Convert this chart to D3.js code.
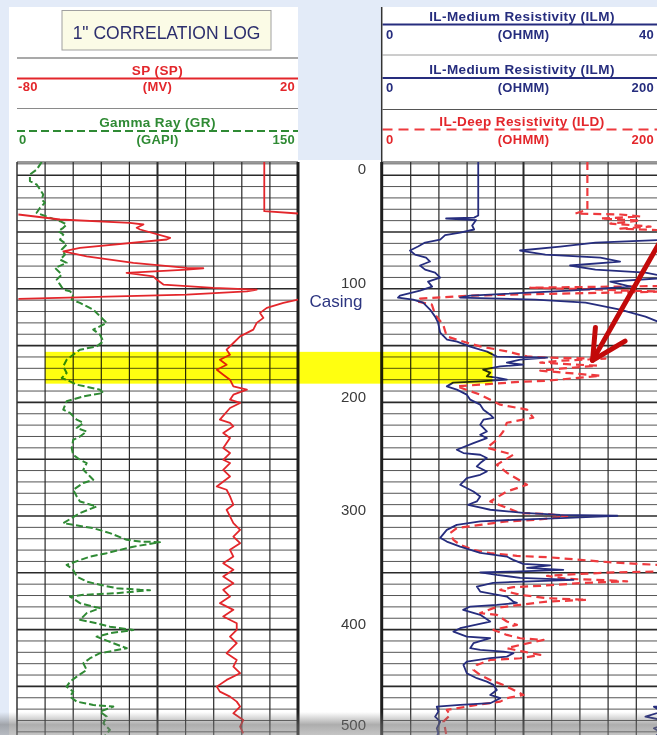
<!DOCTYPE html>
<html>
<head>
<meta charset="utf-8">
<script src="https://cdn.jsdelivr.net/npm/d3@7"></script>
<style>
  html, body { margin: 0; padding: 0; background: #e3ebf8; }
  svg { display: block; }
  text { font-family: "Liberation Sans", Arial, sans-serif; }
</style>
</head>
<body>
<svg id="chart"></svg>
<script>
// ── Data (depth in ft, values in curve units) ──
const depthTicks = [0, 100, 200, 300, 400, 500];
const spScale = [-80, 20];   // MV
const grScale = [0, 150];    // GAPI
const ilmScaleA = [0, 40];   // OHMM
const ilmScaleB = [0, 200];  // OHMM
const ildScale = [0, 200];   // OHMM

// SP wraps off the scale twice: null marks the break
const spCurve = [
  [-11.6, 8], [31.7, 8], [33.7, 20], [34.2, null], [34.6, -79.5], [39, -64.7], [42, -39.8],
  [43.4, -35], [46.3, -37.4], [47.8, -36.2], [55.2, -25.5], [56.6, -26.7], [64, -57.6],
  [67, -63.5], [71.4, -55.2], [77.2, -38.6], [81.6, -19.6], [81.9, -13.7], [83.1, -19.6],
  [86, -41], [89, -31.5], [91.9, -30.3], [96.3, -27.9], [99.2, -10.1], [100.7, 5.3],
  [102.2, 1.8], [105.1, -19.6], [108.9, -79.5], [109.2, null], [109.5, 20], [112.4, 14.8],
  [116.8, 8.9], [121.2, 6.5], [125.6, 7.7], [130, 5.3], [135.9, 4.1], [141.9, -0.6],
  [147.7, -3], [153.6, -5.4], [158, -4.2], [162.4, -7.8], [166.8, -5.4], [171.2, -8.9],
  [175.6, -6.6], [180, -4.2], [185.9, -3], [188.8, 1.8], [193.2, -3], [197.6, -4.2],
  [200.5, -0.6], [204.9, -4.2], [215.2, -7.8], [218.1, -4.2], [221.1, -3], [227, -6.6],
  [231.4, -4.2], [235.8, -5.4], [240.2, -6.6], [244.6, -4.2], [250.5, -6.6], [253.4, -4.2],
  [259.3, -6.6], [265.2, -4.2], [274, -8.9], [276.9, -5.4], [282.8, -4.2], [290.1, -3],
  [294.5, -5.4], [300.4, -4.2], [306.3, -3], [312.2, -0.6], [318.1, -3], [323.9, -0.6],
  [329.8, -4.2], [335.7, -3], [341.5, -6.6], [347.4, -3], [353.3, -6.6], [359.1, -3],
  [365, -6.6], [370.9, -4.2], [376.7, -7.8], [382.6, -3], [388.5, -6.6], [394.4, -1.8],
  [400.3, -1.8], [406.2, -4.2], [412, -1.8], [420.8, -5.4], [426.7, -1.8], [432.6, -3],
  [438.4, -0.6], [444.3, -5.4], [450.2, -8.9], [454.6, -7.8], [459, -4.2], [463.4, -1.8],
  [467.8, -0.6], [473.7, -3], [479.6, 0.5], [485.5, -0.6], [491.3, 0.5]
];

const grCurve = [
  [-11.6, 13.2], [-5, 10.5], [-0.6, 6.9], [5.3, 6.9], [8.2, 10.5], [12.6, 12.3], [17, 14],
  [21.4, 13.2], [24.3, 14.9], [28.7, 12.3], [33.1, 10.5], [37.5, 17.6], [40.5, 23],
  [43.4, 26.5], [46.3, 24.7], [49.3, 22], [52.2, 24.7], [56.7, 23], [61, 26.5], [65.4, 23.9],
  [69.9, 25.6], [74.3, 23], [77.2, 26.5], [81.6, 20.3], [87.5, 23.9], [91.9, 21.2], [96.3, 23],
  [100.7, 24.7], [102.2, 28.3], [105.1, 30], [109.5, 29.2], [112.4, 33.6], [118.3, 40.7],
  [124.2, 44.3], [130, 47.9], [135.9, 40.7], [140.4, 44.3], [146.3, 46.1], [150.7, 42.5],
  [153.6, 33.6], [158, 30], [162.4, 26.5], [168.3, 24.7], [174.1, 26.5], [178.5, 23.9],
  [181.5, 28.3], [184.4, 31.9], [188.8, 44.3], [191.7, 46.1], [194.7, 35.4], [199, 26.5],
  [206.4, 24.7], [209.3, 28.3], [215.2, 31.9], [218.1, 35.4], [222.6, 31.9], [225.6, 37.2],
  [230, 33.6], [232.9, 30], [240.2, 29.2], [246.1, 30], [250.5, 33.6], [253.4, 37.2],
  [259.3, 35.4], [265.2, 39], [268.1, 40.7], [271, 35.4], [276.9, 30], [282.8, 31.9],
  [287.2, 33.6], [291.6, 42.5], [297.4, 33.6], [306.3, 24.7], [307.7, 30], [310.7, 40.7],
  [315.1, 49.6], [321, 58.6], [322.5, 65.7], [323, 76.3], [327, 62.1], [329.8, 55],
  [332.7, 47.9], [335.7, 39], [343, 26.5], [347.4, 30], [353.3, 31.9], [357.7, 37.2],
  [360.6, 44.3], [363.5, 53.2], [365, 65.7], [365.3, 71], [367.9, 53.2], [369.4, 35.4],
  [370.9, 28.3], [376.7, 33.6], [379.7, 40.7], [381.1, 44.3], [385.5, 37.2], [391.4, 33.6],
  [394.4, 42.5], [397.4, 49.6], [400.3, 62.1], [403.2, 49.6], [406.2, 42.5], [412, 51.4],
  [416.4, 58.6], [420.8, 44.3], [425.2, 39], [429.6, 35.4], [435.5, 37.2], [441.4, 31.9],
  [445.8, 28.3], [450.2, 26.5], [454.6, 30], [459, 28.3], [463.4, 31.9], [466.3, 40.7],
  [467.8, 51.4], [472.2, 44.3], [476.6, 47.9], [482.5, 46.1], [488.3, 49.6], [492.8, 47]
];

// ILM is drawn on both medium scales (0-40 and 0-200)
const ilmCurve = [
  [-11.6, 67.9], [35.5, 67.9], [37.3, 65], [38.1, 45.1], [39.5, 66.4], [44.3, 63.6],
  [47.8, 65], [50.5, 55.1], [52.7, 44.4], [56.7, 40.9], [59.3, 30.2], [62.8, 25.2],
  [66.3, 19.5], [69.9, 23.1], [72.5, 30.9], [76, 33.7], [79.5, 26.6], [83.1, 30.2],
  [85.7, 37.3], [90.1, 40.9], [93.7, 32.3], [98.1, 35.2], [101.6, 26.6], [106, 12.4],
  [107.8, 11], [109.5, 21.7], [112.2, 28.8], [118.3, 33.7], [124.5, 37.3], [129.8, 39.4],
  [138.6, 40.9], [144.8, 45.8], [146.5, 52.9], [150.9, 62.2], [153.6, 69.3], [155.3, 74.2],
  [159.7, 81.1], [160.6, 116.7], [162.4, 97.7], [165, 88.2], [166.8, 99.8], [168.3, 83.5],
  [171.2, 71.4], [173.8, 76.4], [177.1, 74], [178.2, 81.1], [180, 88.2], [181.5, 69.3],
  [182.6, 50.1], [185.9, 45.6], [188.8, 52.7], [193.2, 59.8], [197.6, 62.2], [202, 69.3],
  [206.4, 71.6], [210.8, 76.4], [213.7, 78.7], [215.2, 71.6], [219.6, 69.3], [225.6, 74],
  [228.5, 69.3], [231.4, 74], [235.8, 64.5], [241.7, 52.7], [244.6, 57.4], [246.1, 69.3],
  [249, 74], [253.4, 69.3], [256.4, 66.9], [260.8, 74], [263.7, 69.3], [266.6, 59.8],
  [272.5, 55.1], [278.4, 64.5], [282.8, 69.3], [287.2, 66.9], [290.1, 60.7], [294.5, 76.4],
  [297.2, 99.8], [299, 126.1], [299.8, 166.6], [301.6, 131], [303.4, 92.7], [304.8, 69.3],
  [307.8, 52.7], [312.2, 45.6], [319.2, 40.9], [322.5, 45.6], [326.9, 55.1], [332.4, 69.3],
  [335.7, 88.2], [338.6, 92.7], [342.1, 99.8], [343.4, 119], [345.6, 102.5], [347.4, 128.2],
  [348.9, 92.7], [349.6, 69.3], [351.8, 81.1], [354.4, 97.7], [356.2, 135.4], [357.7, 99.8],
  [358.8, 78.5], [362.1, 66.9], [366.5, 69.3], [370.9, 88.2], [375.3, 92.7], [376.5, 95.3],
  [378.2, 81.1], [379.7, 62.2], [382.6, 57.2], [387, 69.3], [392.9, 76.4], [398.8, 55.1],
  [401.8, 50.3], [406.2, 59.8], [407.6, 76.4], [412, 64.5], [416.4, 62.2], [417.9, 69.3],
  [419.4, 85.8], [420.8, 92.9], [423.8, 88.2], [425.2, 76.4], [428.2, 59.8], [431.1, 57.4],
  [438.4, 59.8], [442.8, 66.9], [445.8, 74], [448.7, 78.7], [453.1, 81.1], [457.5, 76.4],
  [460.4, 83.5], [464.8, 76.4], [466.3, 55.1], [467.8, 38.5], [472.2, 39.6], [476.7, 37.3],
  [481.1, 40.9], [486.9, 38.5], [491.3, 39.6], [492.8, 38.8]
];

const ildCurve = [
  [-11.6, 145.3], [30.2, 145.3], [33.7, 136.8], [34.6, 168.7], [36.4, 183], [38.1, 154.6],
  [39.9, 183], [42.6, 161.6], [45.2, 190.1], [47, 168.7], [48.7, 204.3], [56.7, 230],
  [92, 230], [97.3, 211.4], [99, 104.8], [100.7, 154.6], [102.5, 197.2], [104.2, 126.1],
  [106, 62.2], [108.6, 26.6], [111, 24.3], [113.9, 35], [122.7, 37.3], [131.5, 43],
  [141.9, 45.6], [144.8, 52.7], [150.7, 69.3], [155.1, 88.2], [159.5, 102.5], [160.6, 116.7],
  [161.5, 158.1], [163.3, 126.1], [165, 111.9], [167.7, 152.4], [170.3, 126.1], [172.1, 111.9],
  [176.5, 154.6], [178.2, 140.3], [180.9, 116.9], [181.8, 97.7], [184.4, 69.3], [185.9, 52.7],
  [193.2, 69.3], [202, 83.5], [206.4, 102.5], [213.5, 106.9], [217.9, 88.2], [225.6, 85.6],
  [232.9, 81.1], [239.9, 74], [246.1, 92.7], [254.9, 81.1], [261.9, 88.2], [272.5, 102.5],
  [278.4, 88.2], [287.2, 76.4], [297.4, 97.7], [298.1, 116.7], [300.4, 130.9], [303.3, 109.6],
  [304.8, 88.2], [307.8, 69.3], [310.7, 52.7], [315.1, 48], [321, 50.3], [325.4, 55.1],
  [329.8, 64.5], [332.7, 76.4], [335.1, 95.3], [336.2, 116.7], [338.6, 140.3], [341, 164],
  [343, 195], [345.6, 225], [348.9, 195], [349.6, 164], [351, 140.3], [352.7, 116.7],
  [355.3, 130.9], [356.8, 164], [357.5, 173.5], [359.1, 140.3], [361.5, 111.9], [362.6, 92.9],
  [365, 83.5], [369.4, 97.7], [372.3, 116.7], [373.8, 145.1], [375.3, 116.7], [378.2, 97.7],
  [381.1, 78.7], [385.5, 69.3], [387, 81.1], [392.9, 88.2], [395.8, 95.3], [400.3, 78.7],
  [404.7, 88.2], [407.6, 97.7], [409.1, 114.2], [413.5, 97.7], [416.4, 88.2], [419.4, 100],
  [422.3, 111.9], [425.2, 97.7], [426.7, 76.4], [431.1, 66.9], [435.5, 64.5], [439.9, 69.3],
  [444.3, 76.4], [448.7, 85.8], [457.5, 100], [460.4, 88.2], [463.4, 83.5], [466.3, 66.9],
  [470.7, 45.6], [475.1, 48], [481, 43.2], [486.9, 44.4], [491.9, 45.1]
];

const highlightZone = [155.5, 183.5];          // depth ft
const casingDepth = 116;                       // label baseline
// arrow in ILD units / depth: tail, tip, two barbs
const arrowTail = [203, 45];
const arrowTip = [149, 163];
const arrowBarbs = [[151, 134], [172, 146]];

// ── Layout ──
const width = 657, height = 735;
const trackTop = 162;
const leftTrack = [17, 298];
const rightTrack = [382.5, 664.5];
const depthAxisX = 368;

const RED = "#e3262b", NAVY = "#262d7e", GREEN = "#2f8a34", DEEP = "#ee3a3e";

const svg = d3.select("#chart")
  .attr("width", width)
  .attr("height", height)
  .attr("viewBox", `0 0 ${width} ${height}`);

const y = d3.scaleLinear().domain([0, 400]).range([175.2, 629.6]);
const xSP = d3.scaleLinear().domain(spScale).range(leftTrack);
const xGR = d3.scaleLinear().domain(grScale).range(leftTrack);
const xIlmA = d3.scaleLinear().domain(ilmScaleA).range(rightTrack);
const xIlmB = d3.scaleLinear().domain(ilmScaleB).range(rightTrack);
const xIld = d3.scaleLinear().domain(ildScale).range(rightTrack);

// ── Pages ──
svg.append("rect").attr("x", 0).attr("y", 0).attr("width", width).attr("height", height).attr("fill", "#e3ebf8");
svg.append("rect").attr("x", 9).attr("y", 7).attr("width", leftTrack[1] - 9).attr("height", height).attr("fill", "#fff");
svg.append("rect").attr("x", leftTrack[1]).attr("y", trackTop - 2).attr("width", rightTrack[0] - leftTrack[1]).attr("height", height).attr("fill", "#fff");
svg.append("rect").attr("x", rightTrack[0] - 1).attr("y", 7).attr("width", width).attr("height", height).attr("fill", "#fff");

const defs = svg.append("defs");
defs.append("clipPath").attr("id", "clip-left").append("rect")
  .attr("x", leftTrack[0]).attr("y", trackTop)
  .attr("width", leftTrack[1] - leftTrack[0]).attr("height", height - trackTop);
defs.append("clipPath").attr("id", "clip-right").append("rect")
  .attr("x", rightTrack[0]).attr("y", trackTop)
  .attr("width", rightTrack[1] - rightTrack[0]).attr("height", height - trackTop);
const shade = defs.append("linearGradient").attr("id", "shade").attr("x1", 0).attr("x2", 0).attr("y1", 0).attr("y2", 1);
shade.append("stop").attr("offset", "0%").attr("stop-color", "#707070").attr("stop-opacity", 0);
shade.append("stop").attr("offset", "55%").attr("stop-color", "#6a6a6a").attr("stop-opacity", 0.55);
shade.append("stop").attr("offset", "100%").attr("stop-color", "#8a8a8a").attr("stop-opacity", 0.5);

// ── Header: left ──
const hdr = svg.append("g");
hdr.append("rect").attr("x", 62).attr("y", 10.5).attr("width", 209).attr("height", 39.5)
  .attr("fill", "#fbfbe6").attr("stroke", "#a0a0a0").attr("stroke-width", 1);
hdr.append("text").attr("x", 166.5).attr("y", 39).attr("text-anchor", "middle")
  .attr("font-size", 17.5).attr("fill", "#2d2f6e").text('1" CORRELATION LOG');

const midL = (leftTrack[0] + leftTrack[1]) / 2;
const midR = (rightTrack[0] + rightTrack[1]) / 2;

function hline(x1, x2, yy, color, w, dash) {
  hdr.append("line").attr("x1", x1).attr("x2", x2).attr("y1", yy).attr("y2", yy)
    .attr("stroke", color).attr("stroke-width", w).attr("stroke-dasharray", dash || null);
}
function scaleRow(track, yy, color, lo, unit, hi, loX, hiX) {
  const mid = (track[0] + track[1]) / 2;
  [[loX, "start", lo], [mid, "middle", unit], [hiX, "end", hi]].forEach(([xx, anchor, t]) => {
    hdr.append("text").attr("x", xx).attr("y", yy).attr("text-anchor", anchor)
      .attr("font-size", 13).attr("font-weight", "bold").attr("letter-spacing", 0.3)
      .attr("fill", color).text(t);
  });
}
function title(xx, yy, color, t) {
  hdr.append("text").attr("x", xx).attr("y", yy).attr("text-anchor", "middle")
    .attr("font-size", 13.5).attr("font-weight", "bold").attr("letter-spacing", 0.4)
    .attr("fill", color).text(t);
}

hline(leftTrack[0], leftTrack[1], 58, "#555", 1.2);
title(midL, 74.5, RED, "SP (SP)");
hline(leftTrack[0], leftTrack[1], 78.5, RED, 2);
scaleRow(leftTrack, 91, RED, String(spScale[0]), "(MV)", String(spScale[1]), 18, 295);
hline(leftTrack[0], leftTrack[1], 108.5, "#8a8a8a", 1);
title(midL, 127, GREEN, "Gamma Ray (GR)");
hline(leftTrack[0], leftTrack[1], 131, GREEN, 1.8, "8,4");
scaleRow(leftTrack, 144, GREEN, String(grScale[0]), "(GAPI)", String(grScale[1]), 19, 295);

// ── Header: right ──
title(midR - 1.5, 20.5, NAVY, "IL-Medium Resistivity (ILM)");
hline(rightTrack[0], rightTrack[1], 24.5, NAVY, 2);
scaleRow(rightTrack, 39, NAVY, String(ilmScaleA[0]), "(OHMM)", String(ilmScaleA[1]), 386, 654);
hline(rightTrack[0], rightTrack[1], 55, "#9a9a9a", 1);
title(midR - 1.5, 73.5, NAVY, "IL-Medium Resistivity (ILM)");
hline(rightTrack[0], rightTrack[1], 78, NAVY, 2);
scaleRow(rightTrack, 91.5, NAVY, String(ilmScaleB[0]), "(OHMM)", String(ilmScaleB[1]), 386, 654);
hline(rightTrack[0], rightTrack[1], 109.5, "#555", 1);
title(midR - 1.5, 125.5, RED, "IL-Deep Resistivity (ILD)");
hline(rightTrack[0], rightTrack[1], 129.5, DEEP, 2, "10,6");
scaleRow(rightTrack, 143.5, RED, String(ildScale[0]), "(OHMM)", String(ildScale[1]), 386, 654);
hdr.append("line").attr("x1", 381.7).attr("x2", 381.7).attr("y1", 7).attr("y2", trackTop)
  .attr("stroke", "#333").attr("stroke-width", 1.5);

// ── Gridlines ──
const grid = svg.append("g");
const depthLines = d3.range(-10, 500, 10).filter(d => y(d) > trackTop + 1);
[leftTrack, rightTrack].forEach(track => {
  const step = (track[1] - track[0]) / 10;
  grid.append("g").selectAll("line")
    .data(depthLines)
    .join("line")
    .attr("x1", track[0]).attr("x2", track[1])
    .attr("y1", d => y(d)).attr("y2", d => y(d))
    .attr("stroke", d => d % 50 === 0 ? "#2a2a2a" : "#555")
    .attr("stroke-width", d => d % 50 === 0 ? 1.6 : 1);
  grid.append("g").selectAll("line")
    .data(d3.range(1, 10))
    .join("line")
    .attr("x1", i => track[0] + i * step).attr("x2", i => track[0] + i * step)
    .attr("y1", trackTop).attr("y2", height)
    .attr("stroke", "#2a2a2a")
    .attr("stroke-width", i => i === 5 ? 2 : 1.2);
  grid.append("line").attr("x1", track[0]).attr("x2", track[1])
    .attr("y1", trackTop).attr("y2", trackTop).attr("stroke", "#333").attr("stroke-width", 1.2);
});
grid.append("line").attr("x1", leftTrack[0]).attr("x2", leftTrack[0]).attr("y1", trackTop).attr("y2", height)
  .attr("stroke", "#333").attr("stroke-width", 1.5);
grid.append("line").attr("x1", leftTrack[1]).attr("x2", leftTrack[1]).attr("y1", trackTop).attr("y2", height)
  .attr("stroke", "#1e1e1e").attr("stroke-width", 3);
grid.append("line").attr("x1", 381.7).attr("x2", 381.7).attr("y1", trackTop).attr("y2", height)
  .attr("stroke", "#1e1e1e").attr("stroke-width", 3);

// ── Depth track ──
// the last label sits on the page's lower edge, so keep it inside the frame
svg.append("g")
  .attr("transform", `translate(${depthAxisX},0)`)
  .call(d3.axisLeft(y).tickValues(depthTicks).tickSize(0).tickPadding(2))
  .call(g => g.select(".domain").remove())
  .call(g => g.selectAll(".tick")
    .attr("transform", d => `translate(0,${Math.min(y(d), height - 4)})`))
  .call(g => g.selectAll("text")
    .attr("dy", "-0.05em")
    .attr("font-size", 15)
    .attr("font-family", "Liberation Sans, Arial, sans-serif")
    .attr("fill", "#3a3a3a"));

svg.append("text")
  .attr("x", 336).attr("y", y(casingDepth))
  .attr("text-anchor", "middle")
  .attr("font-size", 17)
  .attr("fill", "#2c3580")
  .text("Casing");

// ── Curves ──
function curvePath(xs, data) {
  return d3.line()
    .defined(d => d[1] !== null)
    .x(d => xs(d[1]))
    .y(d => y(d[0]))(data);
}

const left = svg.append("g").attr("clip-path", "url(#clip-left)");
left.append("path").attr("d", curvePath(xGR, grCurve))
  .attr("fill", "none").attr("stroke", GREEN).attr("stroke-width", 2)
  .attr("stroke-dasharray", "7,3").attr("stroke-linejoin", "round");
left.append("path").attr("d", curvePath(xSP, spCurve))
  .attr("fill", "none").attr("stroke", RED).attr("stroke-width", 1.8)
  .attr("stroke-linejoin", "round");

const right = svg.append("g").attr("clip-path", "url(#clip-right)");
right.append("path").attr("d", curvePath(xIld, ildCurve))
  .attr("fill", "none").attr("stroke", DEEP).attr("stroke-width", 2.2)
  .attr("stroke-dasharray", "8,5").attr("stroke-linejoin", "round");
right.append("path").attr("d", curvePath(xIlmA, ilmCurve))
  .attr("fill", "none").attr("stroke", NAVY).attr("stroke-width", 1.8)
  .attr("stroke-linejoin", "round");
right.append("path").attr("d", curvePath(xIlmB, ilmCurve))
  .attr("fill", "none").attr("stroke", NAVY).attr("stroke-width", 1.8)
  .attr("stroke-linejoin", "round");

// ── Highlighted interval ──
svg.append("rect")
  .attr("x", xGR(15))
  .attr("y", y(highlightZone[0]))
  .attr("width", xIlmB(78) - xGR(15))
  .attr("height", y(highlightZone[1]) - y(highlightZone[0]))
  .attr("fill", "#ffff10")
  .style("mix-blend-mode", "multiply");

// ── Arrow ──
const ax = d => xIld(d[0]), ay = d => y(d[1]);
svg.append("line")
  .attr("x1", ax(arrowTail)).attr("y1", ay(arrowTail))
  .attr("x2", ax(arrowTip)).attr("y2", ay(arrowTip))
  .attr("stroke", "#c20a0a").attr("stroke-width", 5).attr("stroke-linecap", "round");
svg.append("path")
  .attr("d", `M${ax(arrowBarbs[0])},${ay(arrowBarbs[0])}L${ax(arrowTip)},${ay(arrowTip)}L${ax(arrowBarbs[1])},${ay(arrowBarbs[1])}`)
  .attr("fill", "none").attr("stroke", "#c20a0a").attr("stroke-width", 5)
  .attr("stroke-linecap", "round").attr("stroke-linejoin", "round");

// ── Bottom shadow ──
svg.append("rect").attr("x", 0).attr("y", 712).attr("width", width).attr("height", 23).attr("fill", "url(#shade)");
</script>
</body>
</html>
